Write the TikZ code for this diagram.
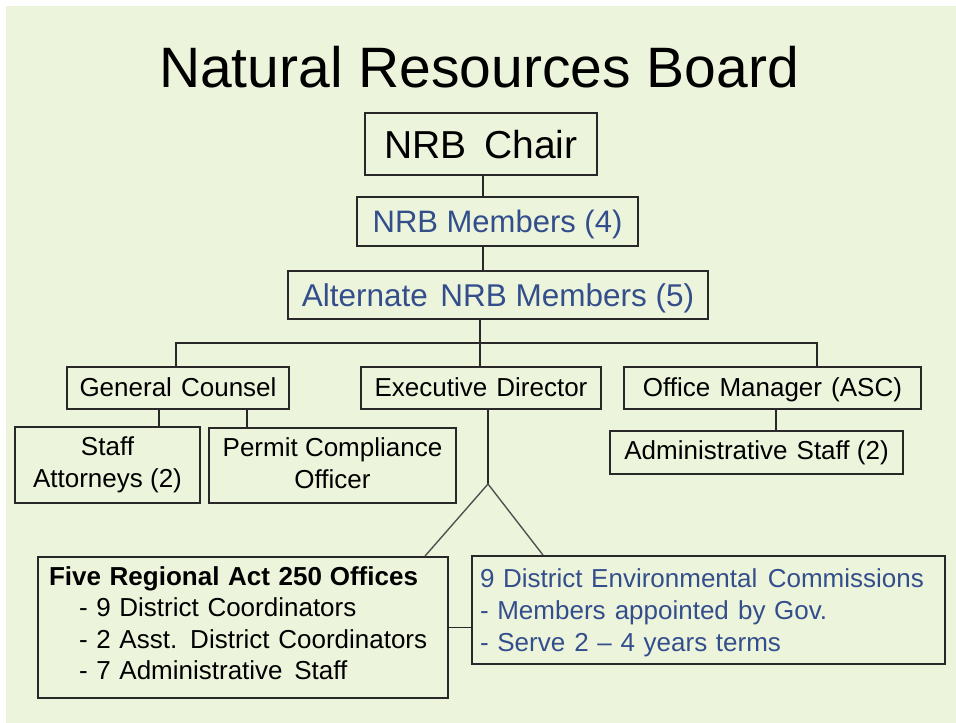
\documentclass[tikz,border=0pt]{standalone}
\usepackage{fontspec}
\setmainfont{Liberation Sans}
\usetikzlibrary{calc}
\definecolor{pagebg}{RGB}{236,245,220}
\definecolor{boxline}{RGB}{40,40,40}
\definecolor{navytext}{RGB}{52,78,140}

\begin{document}
\begin{tikzpicture}[x=1pt,y=-1pt,
  orgbox/.style={draw=boxline, line width=1.9pt, rectangle, inner sep=0pt,
    align=center, text=black, font=\fontsize{26}{31.5}\selectfont},
  rowtext/.style={text height=16pt, text depth=0pt},
  link/.style={draw=boxline, line width=1.9pt},
  branch/.style={draw=black!68, line width=1.4pt},
]
\useasboundingbox (0,0) rectangle (956,723);
\fill[white] (0,0) rectangle (956,723);
\fill[pagebg] (6,6) rectangle (956,723);

% heading
\node[font=\fontsize{57}{62}\selectfont, anchor=base, inner sep=0pt] (title) at (479,87) {Natural Resources Board};

% board
\node[orgbox, minimum width=232pt, minimum height=62pt,
  font=\fontsize{39}{44}\selectfont, text height=28pt, text depth=0pt] (chair) at (481,144) {NRB\hspace{0.45em}Chair};
\node[orgbox, minimum width=281pt, minimum height=49pt, text=navytext,
  font=\fontsize{31}{37}\selectfont, text height=22pt, text depth=0pt] (members) at (497.5,221.5) {NRB Members (4)};
\node[orgbox, minimum width=420pt, minimum height=48pt, text=navytext,
  font=\fontsize{31.5}{37}\selectfont, text height=22pt, text depth=0pt] (alt) at (498,295) {Alternate\hspace{0.4em}NRB Members (5)};

% staff row
\node[orgbox, rowtext, minimum width=222pt, minimum height=42pt] (GC) at (178,388) {General\hspace{0.35em}Counsel};
\node[orgbox, rowtext, minimum width=240pt, minimum height=42pt] (ED) at (481,388) {Executive\hspace{0.35em}Director};
\node[orgbox, rowtext, minimum width=297pt, minimum height=42pt] (OM) at (772.5,388) {Office\hspace{0.35em}Manager\hspace{0.35em}(ASC)};

% under general counsel and office manager
\node[orgbox, minimum width=185pt, minimum height=76pt] (SA) at (107.5,465) {Staff\\Attorneys (2)};
\node[orgbox, minimum width=247pt, minimum height=75pt] (PC) at (332.5,465.5) {Permit Compliance\\Officer\rule[-5pt]{0pt}{5pt}};
\node[orgbox, text height=14pt, text depth=0pt, minimum width=293pt, minimum height=43pt] (AS) at (756.5,452.5) {Administrative\hspace{0.35em}Staff (2)};

% field offices and commissions
\node[orgbox, align=left, inner xsep=11pt, text width=388pt, minimum height=141pt] (FR) at (243,627.5)
  {\textbf{Five Regional Act 250\hspace{0.3em}Offices}\\
   \hspace*{30pt}- 9 District Coordinators\\
   \hspace*{30pt}- 2 Asst. District Coordinators\\
   \hspace*{30pt}- 7 Administrative\hspace{0.45em}Staff\rule[-9pt]{0pt}{9pt}};
\node[orgbox, align=left, inner xsep=8pt, text width=457pt, minimum height=108pt, text=navytext,
  font=\fontsize{26}{32}\selectfont] (DEC) at (708.5,610)
  {\rule{0pt}{25pt}9 District Environmental\hspace{0.4em}Commissions\\
   - Members\hspace{0.35em}appointed\hspace{0.35em}by Gov.\\
   - Serve\hspace{0.35em}2 -- 4 years terms};

% junction points
\coordinate (topX) at (483,0);
\coordinate (busL) at (176,343);
\coordinate (busM) at (480,343);
\coordinate (busR) at (817,343);
\coordinate (saX) at (159,0);
\coordinate (pcX) at (247,0);
\coordinate (asX) at (776,0);
\coordinate (edX) at (488,0);
\coordinate (fork) at (488,484);
\coordinate (frX) at (425,0);
\coordinate (decX) at (543,0);

% connectors
\draw[link] (chair.south -| topX) -- (members.north -| topX);
\draw[link] (members.south -| topX) -- (alt.north -| topX);
\draw[link] (alt.south -| busM) -- (busM);
\draw[link] (GC.north -| busL) -- (busL) -- (busR) -- (OM.north -| busR);
\draw[link] (busM) -- (ED.north -| busM);
\draw[link] (GC.south -| saX) -- (SA.north -| saX);
\draw[link] (GC.south -| pcX) -- (PC.north -| pcX);
\draw[link] (OM.south -| asX) -- (AS.north -| asX);
\draw[link] (ED.south -| edX) -- (fork);
\draw[branch] (FR.north -| frX) -- (fork) -- (DEC.north -| decX);
\draw[link] (FR.east) -- (FR.east -| DEC.west);
\end{tikzpicture}
\end{document}
